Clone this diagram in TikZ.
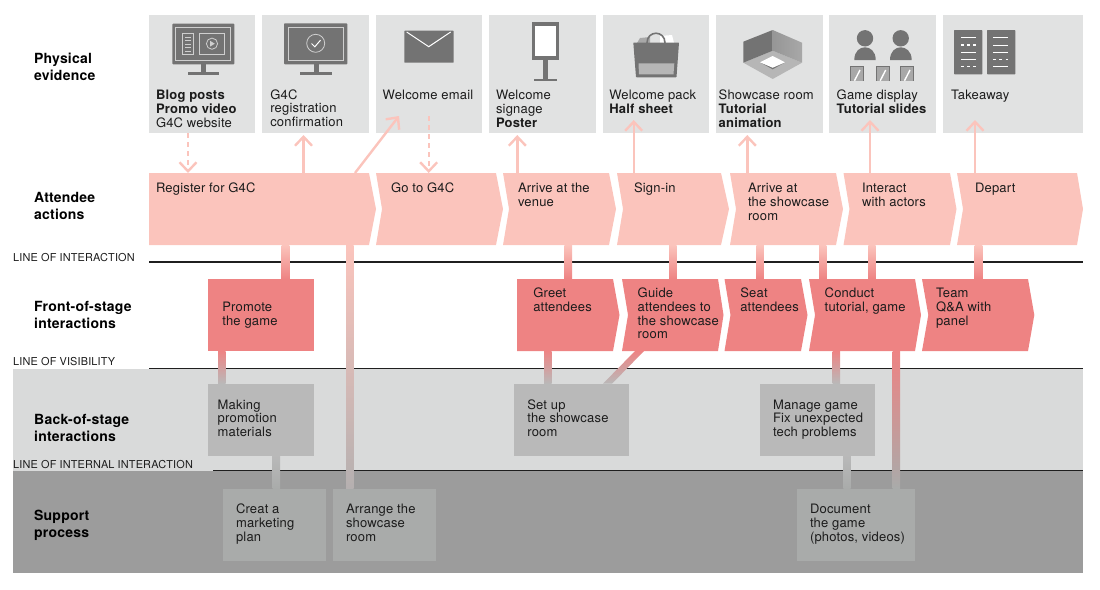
\documentclass[tikz,border=0pt]{standalone}
\usepackage{fontspec}
\setmainfont[LetterSpace=1.5]{TeX Gyre Heros}
\usetikzlibrary{arrows.meta}
\definecolor{evfill}{HTML}{E1E2E2}
\definecolor{attfill}{HTML}{FBC4BC}
\definecolor{frontfill}{HTML}{EE8383}
\definecolor{backband}{HTML}{D9DADA}
\definecolor{backbox}{HTML}{B9B9B9}
\definecolor{supband}{HTML}{9C9C9C}
\definecolor{supbox}{HTML}{A9ABAA}
\definecolor{icon}{HTML}{737373}
\definecolor{iconlt}{HTML}{CFCFCF}
\definecolor{iconmid}{HTML}{A8A8A8}
\definecolor{iconpale}{HTML}{B6B6B6}
\definecolor{pinkgrey}{HTML}{B5B0B0}
\definecolor{ink}{HTML}{1C1C1C}
\tikzset{
  evbox/.style={fill=evfill},
  frontbox/.style={fill=frontfill},
  bbox/.style={fill=backbox},
  sbox/.style={fill=supbox},
  body/.style={font=\fontsize{13}{13.7}\selectfont,text=ink,align=left,inner sep=0pt,outer sep=0pt,anchor=north west},
  rowlabel/.style={font=\fontsize{14}{17}\selectfont\bfseries,text=black,align=left,inner sep=0pt,anchor=north west},
  linelabel/.style={font=\fontsize{10.9}{11}\selectfont,text=ink,inner sep=0pt,anchor=base west},
  divider/.style={line width=1.3pt,draw=black!88},
  arr/.style={draw=attfill,line width=2.4pt,-{Straight Barb[length=9pt,width=17pt,line width=2.4pt]}},
  dasharr/.style={arr,dash pattern=on 5pt off 4pt},
}
% name, style, x1, y1, x2, y2
\newcommand\bx[6]{\node[#2,inner sep=0pt,outer sep=0pt,minimum width={(#5-#3)*1pt},minimum height={(#6-#4)*1pt}] (#1) at ({(#3+#5)/2},{(#4+#6)/2}) {};}
% name, colour, left, right, tip, notch, top, bottom
\newcommand\chev[8]{\fill[#2] (#3,#7) -- (#4,#7) -- (#5,{(#7+#8)/2}) -- (#4,#8) -- (#3,#8) -- (#6,{(#7+#8)/2}) -- cycle;
  \node[inner sep=0pt,outer sep=0pt,minimum width={(#5-#3)*1pt},minimum height={(#8-#7)*1pt}] (#1) at ({(#3+#5)/2},{(#7+#8)/2}) {};}
% from, to, x1, x2, colour1, colour2
\newcommand\conn[6]{\coordinate (cA) at (#3,0);\coordinate (cB) at (#4,0);
  \path[top color=#5,bottom color=#6] (cA |- #1.south) rectangle (cB |- #2.north);}
% name, x, centre y of first line, text
\newcommand\tx[4]{\node[body] (#1) at (#2,{#3+4.7-10}) {\rule{0pt}{10pt}#4};}
\newcommand\rowl[4]{\node[rowlabel] (#1) at (#2,{#3+5-11}) {\rule{0pt}{11pt}#4};}
\begin{document}
\begin{tikzpicture}[x=1pt,y=-1pt]
\useasboundingbox (0,0) rectangle (1100,589);
% bands
\bx{bandback}{fill=backband}{13}{369}{1083}{471}
\bx{bandsup}{fill=supband}{13}{471}{1083}{573}
% dividers
\coordinate (dl) at (149,0);\coordinate (dil) at (213,0);\coordinate (dr) at (1083,0);
\coordinate (li) at (0,262);\coordinate (lv) at (0,368.3);\coordinate (ln) at (0,470.7);
\draw[divider] (dl |- li) -- (dr |- li);
\draw[divider] (dl |- lv) -- (dr |- lv);
\draw[divider] (dil |- ln) -- (dr |- ln);
% evidence boxes
\bx{ev1}{evbox}{149}{15}{255.3}{133}
\bx{ev2}{evbox}{262.3}{15}{369}{133}
\bx{ev3}{evbox}{375.7}{15}{482.3}{133}
\bx{ev4}{evbox}{489}{15}{596}{133}
\bx{ev5}{evbox}{602.5}{15}{709.3}{133}
\bx{ev6}{evbox}{716}{15}{822.7}{133}
\bx{ev7}{evbox}{829.3}{15}{936}{133}
\bx{ev8}{evbox}{943}{15}{1083}{133}
% attendee actions
\chev{a1}{attfill}{149}{369}{376}{149}{173}{245}
\chev{a2}{attfill}{376}{496}{503}{382}{173}{245}
\chev{a3}{attfill}{503}{609}{616}{509}{173}{245}
\chev{a4}{attfill}{617}{721}{729}{623}{173}{245}
\chev{a5}{attfill}{730}{836}{843}{736}{173}{245}
\chev{a6}{attfill}{843.5}{950}{956.5}{849.5}{173}{245}
\chev{a7}{attfill}{957}{1077}{1083}{963}{173}{245}
% front of stage
\bx{f1}{frontbox}{208.3}{279}{314.3}{351}
\chev{f2}{frontfill}{517}{613}{619.5}{517}{279}{351}
\chev{f3}{frontfill}{622}{718}{723.5}{628}{279}{351}
\chev{f4}{frontfill}{724.5}{801}{807.5}{730.5}{279}{351}
\chev{f5}{frontfill}{809}{915}{921}{815}{279}{351}
\chev{f6}{frontfill}{922}{1028}{1034.3}{928.3}{279}{351}
% back of stage
\bx{b1}{bbox}{208.3}{383.7}{314.3}{455.7}
\bx{b2}{bbox}{514.3}{383.7}{629.3}{455.7}
\bx{b3}{bbox}{760}{383.7}{875}{455.7}
% support
\bx{s1}{sbox}{223.3}{488.7}{326}{560.7}
\bx{s2}{sbox}{333}{488.7}{436}{560.7}
\bx{s3}{sbox}{797}{488.7}{915}{560.7}
% connectors between rows
\conn{a1}{f1}{281.7}{289.3}{attfill}{frontfill}
\conn{a1}{s2}{346}{353.5}{attfill}{pinkgrey}
\conn{a3}{f2}{564.3}{572}{attfill}{frontfill}
\conn{a4}{f3}{669}{676.7}{attfill}{frontfill}
\conn{a5}{f4}{756.3}{763.8}{attfill}{frontfill}
\conn{a5}{f5}{819}{826.3}{attfill}{frontfill}
\conn{a6}{f5}{868.3}{875.7}{attfill}{frontfill}
\conn{a7}{f6}{974.7}{982.3}{attfill}{frontfill}
\conn{f1}{b1}{218}{225.7}{frontfill}{backbox}
\conn{f2}{b2}{544}{551.7}{frontfill}{backbox}
\conn{f5}{b3}{832.7}{840}{frontfill}{backbox}
\conn{f5}{s3}{892.7}{900}{frontfill}{supbox}
\conn{b1}{s1}{272.7}{280}{backbox}{supbox}
\conn{b3}{s3}{843.3}{850.7}{backbox}{supbox}
% diagonal guide -> set up
\coordinate (dA) at (635,0);\coordinate (dB) at (644,0);\coordinate (dC) at (612,0);\coordinate (dD) at (603,0);
\path[top color=frontfill,bottom color=backbox] (dA |- f3.south) -- (dB |- f3.south) -- (dC |- b2.north) -- (dD |- b2.north) -- cycle;
% arrows to evidence
\coordinate (x1) at (188,0);\coordinate (x2) at (303.5,0);\coordinate (x3) at (428.7,0);
\coordinate (x4) at (517.3,0);\coordinate (x5) at (633.7,0);\coordinate (x6) at (747.3,0);
\coordinate (x7) at (870,0);\coordinate (x8) at (975,0);
\coordinate (x9) at (355,0);\coordinate (emailtip) at (399,116);
\draw[dasharr] (x1 |- ev1.south) -- (x1 |- a1.north);
\draw[arr,shorten >=2pt] (x2 |- a1.north) -- (x2 |- ev2.south);
\draw[arr] (x9 |- a1.north) -- (emailtip);
\draw[dasharr,shorten <=-17pt] (x3 |- ev3.south) -- (x3 |- a2.north);
\draw[arr,shorten >=2pt] (x4 |- a3.north) -- (x4 |- ev4.south);
\draw[arr,shorten >=-13pt] (x5 |- a4.north) -- (x5 |- ev5.south);
\draw[arr,shorten >=2pt] (x6 |- a5.north) -- (x6 |- ev6.south);
\draw[arr,shorten >=-13pt] (x7 |- a6.north) -- (x7 |- ev7.south);
\draw[arr,shorten >=-13pt] (x8 |- a7.north) -- (x8 |- ev8.south);
% icons: monitor 1
\fill[icon,rounded corners=0.8pt] (172.3,23.7) rectangle (234.3,64.3);
\fill[icon] (201,64) rectangle (206,72.5);
\fill[icon] (187.7,72) rectangle (219.3,74.5);
\draw[iconlt,line width=0.9pt] (175.7,27) rectangle (230.7,60);
\draw[iconlt,line width=0.8pt] (182.7,33.3) rectangle (193.3,54.3);
\draw[iconlt,line width=0.8pt] (199,33.3) rectangle (224.7,54.3);
\foreach \yy in {37,40.5,44,47.5,51}{\draw[iconlt,line width=0.9pt] (185,\yy) -- (191,\yy);}
\draw[iconlt,line width=0.8pt] (212,43.7) circle (5.6);
\fill[iconlt] (210.2,40.9) -- (214.8,43.7) -- (210.2,46.5) -- cycle;
% monitor 2
\fill[icon,rounded corners=0.8pt] (284,23.3) rectangle (347.3,64.3);
\fill[icon] (313.7,64) rectangle (319,72.5);
\fill[icon] (300,72) rectangle (332.3,75);
\draw[iconlt,line width=0.9pt] (288,27.7) rectangle (343.7,60.7);
\draw[iconlt,line width=0.8pt] (315.7,43.3) circle (9);
\draw[white,line width=1pt] (311.5,43.5) -- (314.8,46.8) -- (320.5,40.2);
% envelope
\fill[icon,rounded corners=0.6pt] (404.3,30.7) rectangle (453.7,62.7);
\draw[white,line width=1pt] (406.7,32) -- (428.7,46.7) -- (450.7,32);
% signage
\fill[icon] (531.7,22.3) rectangle (559.3,60.3);
\fill[white] (535,26) rectangle (556,56);
\fill[icon] (543.3,60) rectangle (547.7,80);
\fill[icon] (534.3,78.7) rectangle (557,81);
% bag
\fill[iconmid] (637,43) -- (640,38) -- (650,37) -- (650,43) -- cycle;
\fill[white] (660,43) -- (660,36) -- (672,35) -- (674,43) -- cycle;
\draw[icon,line width=1.6pt] (647,43) .. controls (647,30) and (665,30) .. (665,43);
\fill[icon,rounded corners=0.6pt] (633.3,42.5) -- (679,42.5) -- (676.5,77.3) -- (636,77.3) -- cycle;
\fill[iconpale] (638.5,63.3) -- (674.3,63.3) -- (673.5,74.3) -- (639,74.3) -- cycle;
% room
\fill[iconpale] (743.3,62.7) -- (772.7,50.7) -- (802,62.7) -- (772.7,79) -- cycle;
\fill[icon] (743.3,41.7) -- (772.7,30) -- (772.7,50.7) -- (743.3,62.7) -- cycle;
\path[left color=icon!75!white,right color=iconmid] (772.7,30) -- (802,42.7) -- (802,62.7) -- (772.7,50.7) -- cycle;
\fill[icon] (760,62.3) -- (772.7,69.3) -- (785,62.3) -- (772.7,67.7) -- cycle;
\fill[white] (760,62.3) -- (772.7,56) -- (785,62.3) -- (772.7,67.7) -- cycle;
% people
\fill[icon] (865,38.3) circle (8.2);
\fill[icon] (900.7,38.3) circle (8.2);
\fill[icon] (854.3,60) .. controls (854.3,51) and (860,47.3) .. (865,47.3) .. controls (870,47.3) and (875.7,51) .. (875.7,60) -- cycle;
\fill[icon] (890,60) .. controls (890,51) and (895.7,47.3) .. (900.7,47.3) .. controls (905.7,47.3) and (911.7,51) .. (911.7,60) -- cycle;
\foreach \xx in {850,875.7,900}{
  \fill[iconmid] (\xx,66) rectangle ({\xx+14},80.7);
  \draw[icon,line width=1pt] ({\xx+.5},80.7) -- ({\xx+.5},66.5) -- ({\xx+13.5},66.5) -- ({\xx+13.5},80.7);
  \draw[white,line width=1.4pt] ({\xx+4.5},80.7) -- ({\xx+10},70);
}
% takeaway
\fill[icon,rounded corners=0.6pt] (954,30) rectangle (982.3,74.3);
\fill[icon,rounded corners=0.6pt] (987,30) rectangle (1015.3,74.3);
\foreach \yy in {37.7,52.3,59.3}{\draw[white,line width=0.9pt] (961,\yy) -- (975.7,\yy);}
\foreach \yy in {45,66.7}{\draw[white,line width=1.2pt,dash pattern=on 2.5pt off 3.6pt] (961,\yy) -- (975.7,\yy);}
\foreach \yy in {37.7,45,52.3,66.7}{\draw[white,line width=0.9pt] (993.3,\yy) -- (1008.3,\yy);}
\draw[white,line width=1.2pt,dash pattern=on 2.5pt off 3.6pt] (993.3,59.3) -- (1008.3,59.3);
% row labels
\rowl{r1}{34}{58}{Physical\\evidence}
\rowl{r2}{34}{197}{Attendee\\actions}
\rowl{r3}{34}{306}{Front-of-stage\\interactions}
\rowl{r4}{34}{419}{Back-of-stage\\interactions}
\rowl{r5}{34}{515}{Support\\process}
% line labels
\node[linelabel] (l1) at (13,261) {LINE OF INTERACTION};
\node[linelabel] (l2) at (13,365.5) {LINE OF VISIBILITY};
\node[linelabel] (l3) at (13,468) {LINE OF INTERNAL INTERACTION};
% evidence text
\tx{t1}{156}{95}{\textbf{Blog posts}\\\textbf{Promo video}\\G4C website}
\tx{t2}{270.3}{94.5}{G4C\\registration\\confirmation}
\tx{t3}{382.7}{95}{Welcome email}
\tx{t4}{496}{95}{Welcome\\signage\\\textbf{Poster}}
\tx{t5}{609.3}{95}{Welcome pack\\\textbf{Half sheet}}
\tx{t6}{718.7}{95}{Showcase room\\\textbf{Tutorial}\\\textbf{animation}}
\tx{t7}{836.7}{95}{Game display\\\textbf{Tutorial slides}}
\tx{t8}{951}{95}{Takeaway}
% attendee text
\tx{t9}{156}{188}{Register for G4C}
\tx{t10}{391}{188}{Go to G4C}
\tx{t11}{518}{188}{Arrive at the\\venue}
\tx{t12}{634}{188}{Sign-in}
\tx{t13}{748}{188}{Arrive at\\the showcase\\room}
\tx{t14}{862}{188}{Interact\\with actors}
\tx{t15}{975}{188}{Depart}
% front text
\tx{t16}{222.3}{307}{Promote\\the game}
\tx{t17}{533.3}{293}{Greet\\attendees}
\tx{t18}{637.7}{293}{Guide\\attendees to\\the showcase\\room}
\tx{t19}{740.3}{293}{Seat\\attendees}
\tx{t20}{824.7}{293}{Conduct\\tutorial, game}
\tx{t21}{936}{293}{Team\\Q\&A with\\panel}
% back text
\tx{t22}{217.7}{404.5}{Making\\promotion\\materials}
\tx{t23}{527.3}{404.5}{Set up\\the showcase\\room}
\tx{t24}{773}{404.5}{Manage game\\Fix unexpected\\tech problems}
% support text
\tx{t25}{236}{509}{Creat a\\marketing\\plan}
\tx{t26}{346}{509}{Arrange the\\showcase\\room}
\tx{t27}{810}{509}{Document\\the game\\(photos, videos)}
\end{tikzpicture}
\end{document}
